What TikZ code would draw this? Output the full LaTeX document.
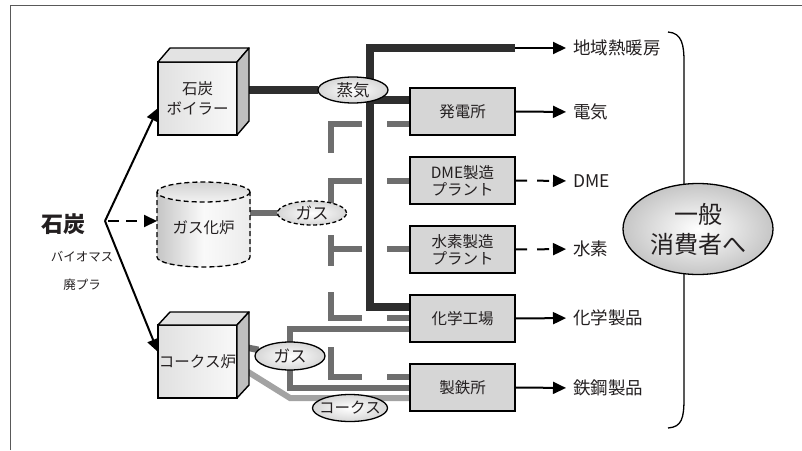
\documentclass[tikz,border=0pt]{standalone}
\usepackage{fontspec}
\setmainfont{Noto Sans CJK JP}
\usetikzlibrary{arrows.meta,shapes.geometric,calc}
\pgfdeclarelayer{bg}
\pgfsetlayers{bg,main}
\definecolor{txt}{HTML}{231F20}
\definecolor{dk}{HTML}{2E2E2E}
\definecolor{md}{HTML}{6E6E6E}
\definecolor{lt}{HTML}{A3A3A3}
\definecolor{boxfill}{HTML}{D6D6D6}
\begin{document}
\begin{tikzpicture}[x=1pt,y=-1pt,
  every node/.style={text=txt},
  plant/.style={draw=black, line width=1.4pt, fill=boxfill, minimum width=105pt, minimum height=47pt,
    align=center, inner sep=0pt, outer sep=0pt, font=\fontsize{15.5}{17}\selectfont},
  cubefront/.style={draw=black, line width=1.4pt, left color=gray!24, right color=gray!5,
    minimum width=79pt, minimum height=73pt, align=center, inner sep=0pt, outer sep=0pt,
    font=\fontsize{15.5}{20}\selectfont},
  cubeside/.style={draw=black, line width=1.4pt, fill=gray!50, line join=round},
  cubetop/.style={draw=black, line width=1.4pt, fill=gray!22, line join=round},
  bubble/.style={ellipse, draw=black, line width=1.3pt, inner color=white, outer color=gray!32,
    inner sep=0pt, outer sep=0pt, font=\fontsize{16.5}{17}\selectfont},
  steamline/.style={draw=dk, line width=7.5pt, line join=miter},
  gasline/.style={draw=md, line width=6.5pt, line join=miter},
  cokeline/.style={draw=lt, line width=6pt, line join=miter},
  flow/.style={draw=black, line width=2pt, -{Triangle[length=13pt,width=12pt]}},
  lab/.style={anchor=west, inner sep=0pt, outer sep=0pt, font=\fontsize{17.5}{19}\selectfont},
]
\useasboundingbox (0,0) rectangle (802,450);
% frame
\draw[gray!70!black, line width=0.8pt] (10,450) -- (10,5) -- (802,5);

% plants
\node[plant] (hatsu) at (462.5,111.5) {発電所};
\node[plant] (dme) at (462.5,180.5) {DME製造\\プラント};
\node[plant] (h2) at (462.5,249.5) {水素製造\\プラント};
\node[plant] (chem) at (462.5,318.5) {化学工場};
\node[plant] (steel) at (462.5,387.5) {製鉄所};

% output labels
\node[lab] (heat) at (573,48) {地域熱暖房};
\node[lab] (elec) at (573,112) {電気};
\node[lab] (dmeo) at (573,181) {DME};
\node[lab] (h2o) at (573,249) {水素};
\node[lab] (chemo) at (573,318) {化学製品};
\node[lab] (steelo) at (573,388) {鉄鋼製品};

% boiler cube
\node[cubefront] (boiler) at (197.5,98.5) {石炭\\ボイラー};
\draw[cubetop] (boiler.north west) -- ++(12,-14) -- ++(79,0) -- (boiler.north east) -- cycle;
\draw[cubeside] (boiler.north east) -- ++(12,-14) -- ++(0,73) -- (boiler.south east) -- cycle;

% coke oven cube
\node[cubefront] (coke) at (197.5,361.5) {コークス炉};
\draw[cubetop] (coke.north west) -- ++(12,-13) -- ++(79,0) -- (coke.north east) -- cycle;
\draw[cubeside] (coke.north east) -- ++(12,-13) -- ++(0,73) -- (coke.south east) -- cycle;

% gasifier cylinder
\fill[left color=gray!45, right color=gray!15, middle color=gray!4]
  (157,192) -- (157,257) arc[start angle=180,end angle=0,x radius=46.5,y radius=10] -- (250,192) -- cycle;
\draw[line width=1.3pt, dash pattern=on 5pt off 3pt]
  (157,192) -- (157,257) arc[start angle=180,end angle=0,x radius=46.5,y radius=10] -- (250,192);
\draw[line width=1.3pt, dash pattern=on 5pt off 3pt, top color=gray!35, bottom color=gray!10]
  (203.5,192) ellipse[x radius=46.5, y radius=10];
\node[minimum width=93pt, minimum height=85pt, inner sep=0pt, outer sep=0pt,
  font=\fontsize{15.5}{16}\selectfont] (gasifier) at (203.5,228) {ガス化炉};

% bubbles
\node[bubble, minimum width=70pt, minimum height=26pt] (steam) at (353,90) {\makebox[0pt]{蒸気}};
\node[bubble, dash pattern=on 4pt off 2.5pt, minimum width=69pt, minimum height=24pt] (gas1) at (312,213) {\makebox[0pt]{ガス}};
\node[bubble, minimum width=70pt, minimum height=28pt] (gas2) at (290,356) {\makebox[0pt]{ガス}};
\node[bubble, minimum width=75pt, minimum height=27pt] (cokeb) at (350,408) {\makebox[0pt]{\fontsize{15.5}{16}\selectfont コークス}};

% coal source labels
\node[font=\fontsize{22}{24}\selectfont\bfseries, inner sep=0pt] (coal) at (63,224) {石炭};
\node[font=\fontsize{12.5}{13}\selectfont, inner sep=0pt] (bio) at (82,257) {バイオマス};
\node[font=\fontsize{12.5}{13}\selectfont, inner sep=0pt] (plas) at (82,285) {廃プラ};
\coordinate (src) at (105,221);

% consumers
\draw[line width=1.3pt] (668,32) .. controls (682,33) and (684,45) .. (684,62) -- (684,398)
  .. controls (684,418) and (682,427) .. (668,428);
\node[ellipse, draw=black, line width=1.3pt, inner color=white, outer color=gray!45,
  minimum width=150pt, minimum height=91pt, inner sep=0pt, align=center,
  font=\fontsize{24}{30}\selectfont] (cons) at (698,229) {一般\\消費者へ};

\begin{pgfonlayer}{bg}
% steam network
\coordinate (vtop) at (370,48);
\coordinate (vmid) at (370,100);
\coordinate (vbot) at (370,307);
\draw[steamline] (boiler.east |- steam) -- (steam);
\draw[steamline] (hatsu.east |- vtop) -- (vtop) -- (vbot) -- (chem.west |- vbot);
\draw[steamline] (vmid) -- (hatsu.west |- vmid);
% gasification (dashed) network
\draw[gasline] (gasifier.east |- gas1) -- (gas1);
\draw[gasline] (362,124) -- (331,124) -- (331,153);
\draw[gasline] (387,124) -- (410,124);
\draw[gasline] (362,181) -- (331,181) -- (331,210);
\draw[gasline] (387,181) -- (410,181);
\draw[gasline] (331,235) -- (331,266);
\draw[gasline] (331,249) -- (362,249);
\draw[gasline] (387,249) -- (410,249);
\draw[gasline] (331,292) -- (331,318) -- (362,318);
\draw[gasline] (387,318) -- (410,318);
\draw[gasline] (331,347) -- (331,377) -- (362,377);
\draw[gasline] (387,377) -- (410,377);
% coke oven gas
\draw[gasline] (244,347) -- (gas2);
\draw[gasline] (chem.west |- 0,329) -- (290,329) -- (290,388) -- (steel.west |- 0,388);
% coke
\draw[cokeline] (245,370) -- (290,398) -- (steel.west |- 0,398);
\end{pgfonlayer}

% inputs
\draw[flow] (src) -- ([yshift=-9.5pt]boiler.west);
\draw[flow] (src) -- ([yshift=9.5pt]coke.west);
\draw[flow, dash pattern=on 11pt off 7pt] ([xshift=3pt]src) -- (gasifier.west |- src);

% outputs
\draw[flow, shorten >=7pt] (hatsu.east |- vtop) -- (heat.west);
\draw[flow, shorten >=7pt] (hatsu.east) -- (elec.west);
\draw[flow, shorten >=7pt, dash pattern=on 12pt off 10pt] (dme.east) -- (dmeo.west);
\draw[flow, shorten >=7pt, dash pattern=on 12pt off 10pt] (h2.east) -- (h2o.west);
\draw[flow, shorten >=7pt] (chem.east) -- (chemo.west);
\draw[flow, shorten >=7pt] (steel.east) -- (steelo.west);
\end{tikzpicture}
\end{document}
